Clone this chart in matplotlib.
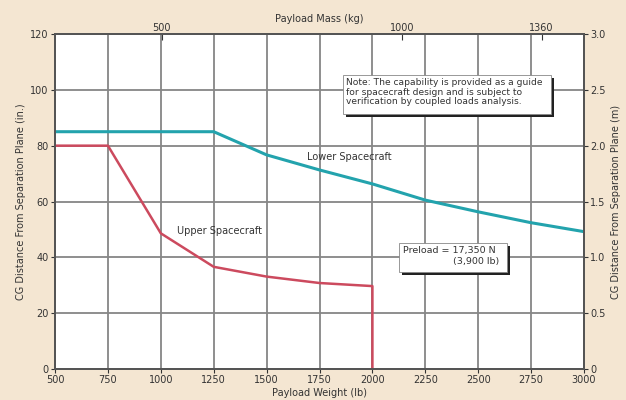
import matplotlib.pyplot as plt
from matplotlib.patches import Rectangle

# payload weight (lb) vs allowable CG distance (in.)
lower_weight = [500, 750, 1000, 1250, 1500, 1750, 2000, 2250, 2500, 2750, 3000]
lower_cg = [85.0, 85.0, 85.0, 85.0, 76.7, 71.3, 66.3, 60.5, 56.3, 52.4, 49.2]

upper_weight = [500, 750, 1000, 1250, 1500, 1750, 2000, 2000]
upper_cg = [80.0, 80.0, 48.6, 36.6, 33.1, 30.8, 29.7, 0.0]

weight_ticks = [500, 750, 1000, 1250, 1500, 1750, 2000, 2250, 2500, 2750, 3000]
cg_in_ticks = [0, 20, 40, 60, 80, 100, 120]
cg_m_ticks = [0, 0.5, 1.0, 1.5, 2.0, 2.5, 3.0]
cg_m_labels = ["0", "0.5", "1.0", "1.5", "2.0", "2.5", "3.0"]
# top mass scale, placed where the source chart puts it (lb positions)
mass_labels = ["500", "1000", "1360"]
mass_pos_lb = [1005, 2140, 2800]

BG = "#f4e6d2"
TEAL = "#23a3ad"
RED = "#cc4a5e"
GRID = "#868686"
TXT = "#333333"
FS = 7

fig = plt.figure(figsize=(6.26, 4.0), dpi=100)
fig.patch.set_facecolor(BG)
ax = fig.add_axes([0.0879, 0.0775, 0.845, 0.8375])
ax.set_facecolor("white")

ax.set_xlim(500, 3000)
ax.set_ylim(0, 120)
ax.set_xticks(weight_ticks)
ax.set_yticks(cg_in_ticks)
ax.grid(True, color=GRID, linewidth=1.3)
ax.set_axisbelow(True)
ax.tick_params(labelsize=FS, colors=TXT, length=3, width=0.8, pad=1.5)

ax.plot(lower_weight, lower_cg, color=TEAL, linewidth=2.2, solid_capstyle="butt", zorder=3)
ax.plot(upper_weight, upper_cg, color=RED, linewidth=1.8, solid_capstyle="butt", zorder=3)

ax.set_xlabel("Payload Weight (lb)", fontsize=FS, color=TXT, labelpad=2)
ax.set_ylabel("CG Distance From Separation Plane (in.)", fontsize=FS, color=TXT, labelpad=3)

for spine in ax.spines.values():
    spine.set_color("#555555")
    spine.set_linewidth(1.2)

axr = ax.twinx()
axr.set_ylim(0, 3.0)
axr.set_yticks(cg_m_ticks)
axr.set_yticklabels(cg_m_labels)
axr.tick_params(labelsize=FS, colors=TXT, length=3, width=0.8, pad=1.5)
axr.set_ylabel("CG Distance From Separation Plane (m)", fontsize=FS, color=TXT, labelpad=4)

axt = ax.twiny()
axt.set_xlim(500, 3000)
axt.set_xticks(mass_pos_lb)
axt.set_xticklabels(mass_labels)
axt.tick_params(labelsize=FS, colors=TXT, direction="in", length=4, width=0.8, pad=0.5)
axt.set_xlabel("Payload Mass (kg)", fontsize=FS, color=TXT, labelpad=1)

ax.text(1690, 75.9, "Lower Spacecraft", fontsize=FS, color=TXT, va="center", zorder=4)
ax.text(1077, 49.6, "Upper Spacecraft", fontsize=FS, color=TXT, va="center", zorder=4)

# note box with drop shadow
note = ("Note: The capability is provided as a guide\n"
        "for spacecraft design and is subject to\n"
        "verification by coupled loads analysis.")
ax.add_patch(Rectangle((1875, 90.3), 985, 13.8, facecolor="#222222",
                       edgecolor="none", zorder=5))
ax.add_patch(Rectangle((1859, 91.4), 985, 13.9, facecolor="white",
                       edgecolor="#888888", linewidth=0.6, zorder=6))
ax.text(1876, 104.3, note, fontsize=6.6, color=TXT, va="top", ha="left",
        linespacing=1.1, zorder=7)

ax.add_patch(Rectangle((2142, 33.7), 508, 10.3, facecolor="#222222",
                       edgecolor="none", zorder=5))
ax.add_patch(Rectangle((2126, 34.8), 508, 10.3, facecolor="white",
                       edgecolor="#888888", linewidth=0.6, zorder=6))
ax.text(2145, 44.2, "Preload = 17,350 N", fontsize=6.8, color=TXT, va="top",
        ha="left", zorder=7)
ax.text(2600, 40.0, "(3,900 lb)", fontsize=6.8, color=TXT, va="top",
        ha="right", zorder=7)

for a in (axr, axt):
    for spine in a.spines.values():
        spine.set_color("#555555")
        spine.set_linewidth(1.2)

fig.savefig("out.png", dpi=100, facecolor=BG)
